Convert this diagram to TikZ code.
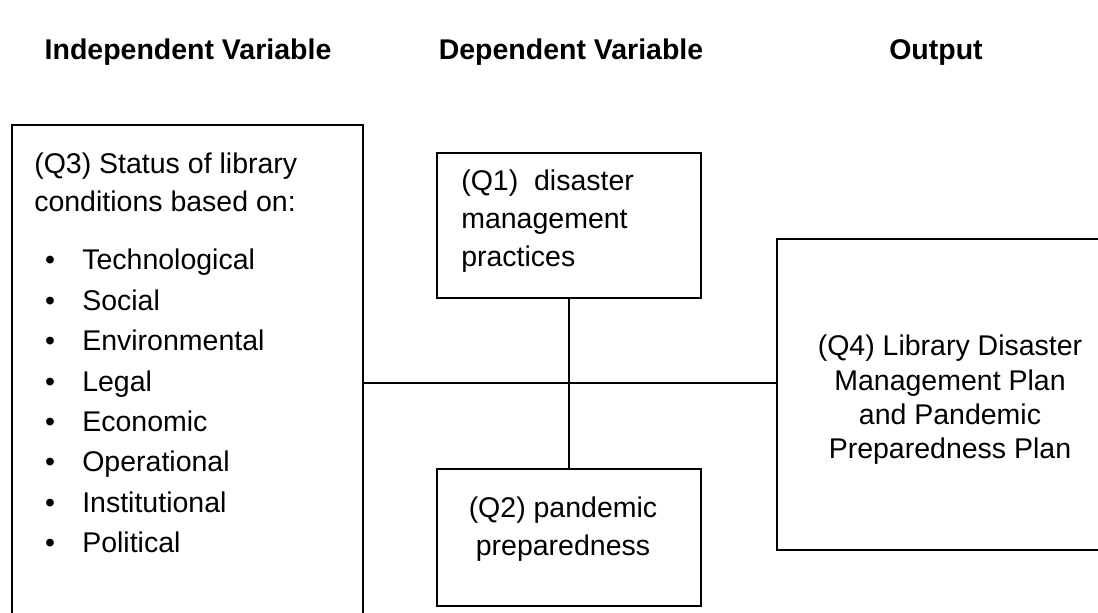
\documentclass[tikz,border=0pt]{standalone}
\usepackage{fontspec}
\setmainfont{Liberation Sans}
\usetikzlibrary{positioning}

\begin{document}
\begin{tikzpicture}[x=0.5pt, y=-0.5pt, line width=1.3pt,
    box/.style={draw, inner sep=0pt, outer sep=0pt},
    txt/.style={inner sep=0pt, font=\fontsize{14.25}{19}\selectfont},
    head/.style={inner sep=0pt, anchor=base,
                 font=\fontsize{14.25}{17}\selectfont\bfseries}]
  \useasboundingbox (0,0) rectangle (1098,613);
  % column headings
  \node[head] (hind) at (188,60) {Independent Variable};
  \node[head] (hdep) at (571,60) {Dependent Variable};
  \node[head] (hout) at (936,60) {Output};
  % boxes
  \node[box, minimum width=175.5pt, minimum height=267.5pt] (cond) at (187.5,392.5) {};
  \node[box, minimum width=132pt, minimum height=72.5pt] (q1) at (569,225.5) {};
  \node[box, minimum width=132pt, minimum height=68.5pt] (q2) at (569,537.5) {};
  \node[box, minimum width=176.5pt, minimum height=155.5pt] (plan) at (953.5,394.5) {};
  % texts
  \node[txt, anchor=north west, align=left] (q3txt) at (33,152)
    {(Q3) Status of library\\conditions based on:};
  \foreach \lbl [count=\i] in {Technological, Social, Environmental, Legal,
      Economic, Operational, Institutional, Political} {
    \node[txt, anchor=base] (dot\i) at (50,{270+40.4*(\i-1)}) {\textbullet};
    \node[txt, anchor=base west] (item\i) at (81,{270+40.4*(\i-1)}) {\lbl};
  }
  \node[txt, anchor=north west, align=left] (q1txt) at (460,169)
    {(Q1)\ \ disaster\\management\\practices};
  \node[txt, anchor=north, align=center] (q2txt) at (563,496)
    {(Q2) pandemic\\preparedness};
  \node[txt, anchor=north, align=center, font=\fontsize{14.25}{17.15}\selectfont]
    (q4txt) at (950,334)
    {(Q4) Library Disaster\\Management Plan\\and Pandemic\\Preparedness Plan};
  % connectors
  \coordinate (hub) at (569,383);
  \draw (hub -| cond.east) -- (hub -| plan.west);
  \draw (q1) -- (q2);
\end{tikzpicture}
\end{document}
